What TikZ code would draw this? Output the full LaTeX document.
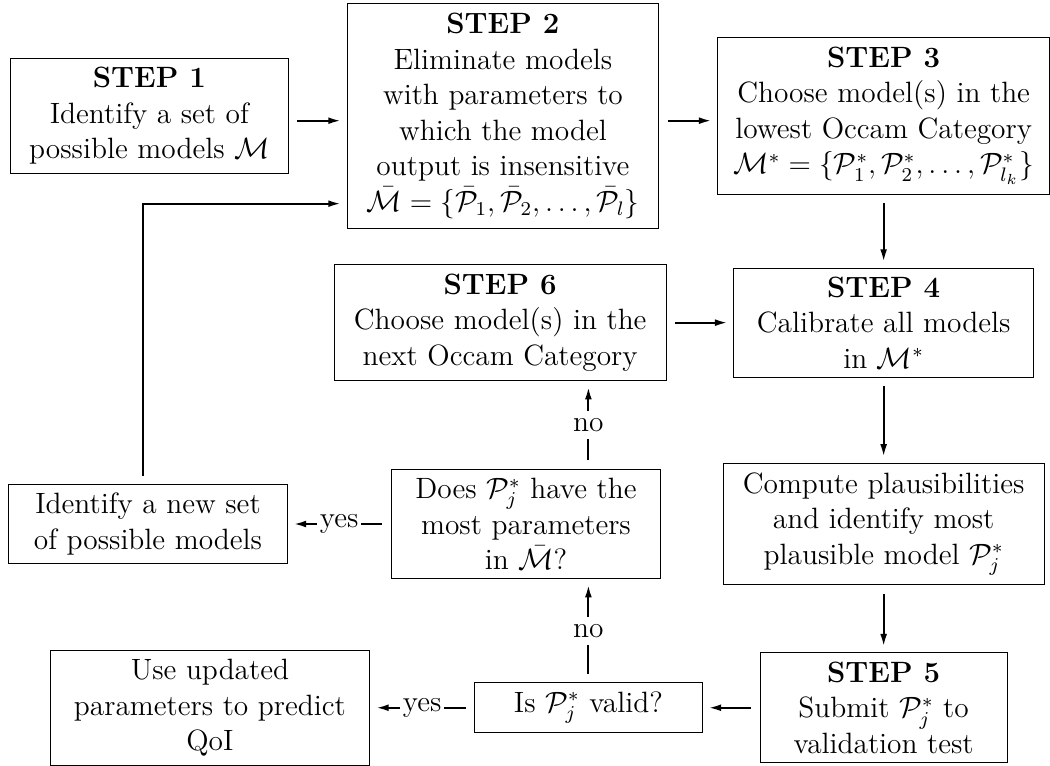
\documentclass[12pt,tikz,border=0pt]{standalone}
\usepackage{tikz}
\usetikzlibrary{arrows.meta,positioning,calc}

\begin{document}
\begin{tikzpicture}[
    stepbox/.style={draw, rectangle, align=center, inner xsep=4pt, inner ysep=3pt},
    flow/.style={-{Latex[length=5pt,width=2.8pt]}, thick, shorten <=3.5pt, shorten >=2.5pt},
    answer/.style={midway, fill=white, inner xsep=1pt, inner ysep=3pt}
  ]
  % top row
  \node[stepbox, minimum width=113.4pt, minimum height=46.9pt] (step1)
  {\textbf{STEP 1}\\Identify a set of\\possible models $\mathcal{M}$};
  \node[stepbox, minimum width=127.3pt, minimum height=91.8pt, right=23.7pt of step1] (step2)
  {\textbf{STEP 2}\\Eliminate models\\with parameters to\\which the model\\output is insensitive\\
   $\bar{\mathcal{M}}=\{\bar{\mathcal{P}}_1,\bar{\mathcal{P}}_2,\ldots,\bar{\mathcal{P}}_l\}$};
  \node[stepbox, minimum width=135.5pt, minimum height=64.1pt, right=23.7pt of step2] (step3)
  {\textbf{STEP 3}\\Choose model(s) in the\\lowest Occam Category\\
   $\mathcal{M}^*=\{\mathcal{P}^*_1,\mathcal{P}^*_2,\ldots,\mathcal{P}^*_{l_k}\}$};

  % right column
  \node[stepbox, minimum width=122.4pt, minimum height=44.5pt, below=29.8pt of step3] (step4)
  {\textbf{STEP 4}\\Calibrate all models\\in $\mathcal{M}^*$};
  \node[stepbox, minimum width=131pt, minimum height=49.8pt, below=34.7pt of step4] (compute)
  {Compute plausibilities\\and identify most\\plausible model $\mathcal{P}^*_j$};
  \node[stepbox, minimum width=100.8pt, minimum height=44.9pt, below=27.3pt of compute] (step5)
  {\textbf{STEP 5}\\Submit $\mathcal{P}^*_j$ to\\validation test};

  % middle and left
  \node[stepbox, minimum width=135.5pt, minimum height=47.3pt, left=27.3pt of step4] (step6)
  {\textbf{STEP 6}\\Choose model(s) in the\\next Occam Category};
  \node[stepbox, minimum width=110.2pt, minimum height=44.5pt, left=25.1pt of compute] (does)
  {Does $\mathcal{P}^*_j$ have the\\most parameters\\in $\bar{\mathcal{M}}$?};
  \node[stepbox, minimum width=113.8pt, minimum height=32.2pt, left=42pt of does] (newset)
  {Identify a new set\\of possible models};
  \node[stepbox, minimum width=93pt, minimum height=20.4pt, left=23.3pt of step5] (valid)
  {Is $\mathcal{P}^*_j$ valid?};
  \node[stepbox, minimum width=130.6pt, minimum height=46.9pt, left=42.4pt of valid] (use)
  {Use updated\\parameters to predict\\QoI};

  \coordinate (c1) at ($(step2.south west)+(0,10.2pt)$);

  \draw[flow] ([yshift=-2pt]step1.east) -- ([yshift=-2pt]step2.west);
  \draw[flow] ([yshift=-2pt]step2.east) -- ([yshift=-2pt]step3.west);
  \draw[flow] (step3) -- (step4);
  \draw[flow] (step4) -- (compute);
  \draw[flow] (compute) -- (step5);
  \draw[flow] (step5) -- (valid);
  \draw[flow] (step6) -- (step4);
  \draw[flow] (valid) -- (use) node[answer] {yes};
  \draw[flow] (valid.north) -- (valid |- does.south) node[answer] {no};
  \draw[flow] (valid |- does.north) -- (valid |- step6.south) node[answer] {no};
  \draw[flow] (does) -- (newset) node[answer] {yes};
  \draw[flow] ([xshift=-2pt]newset.north) |- (c1);

  \useasboundingbox ($(step2.north -| step1.west)+(-4.1pt,1.2pt)$) rectangle ++(428.4pt,-311.7pt);
\end{tikzpicture}
\end{document}
